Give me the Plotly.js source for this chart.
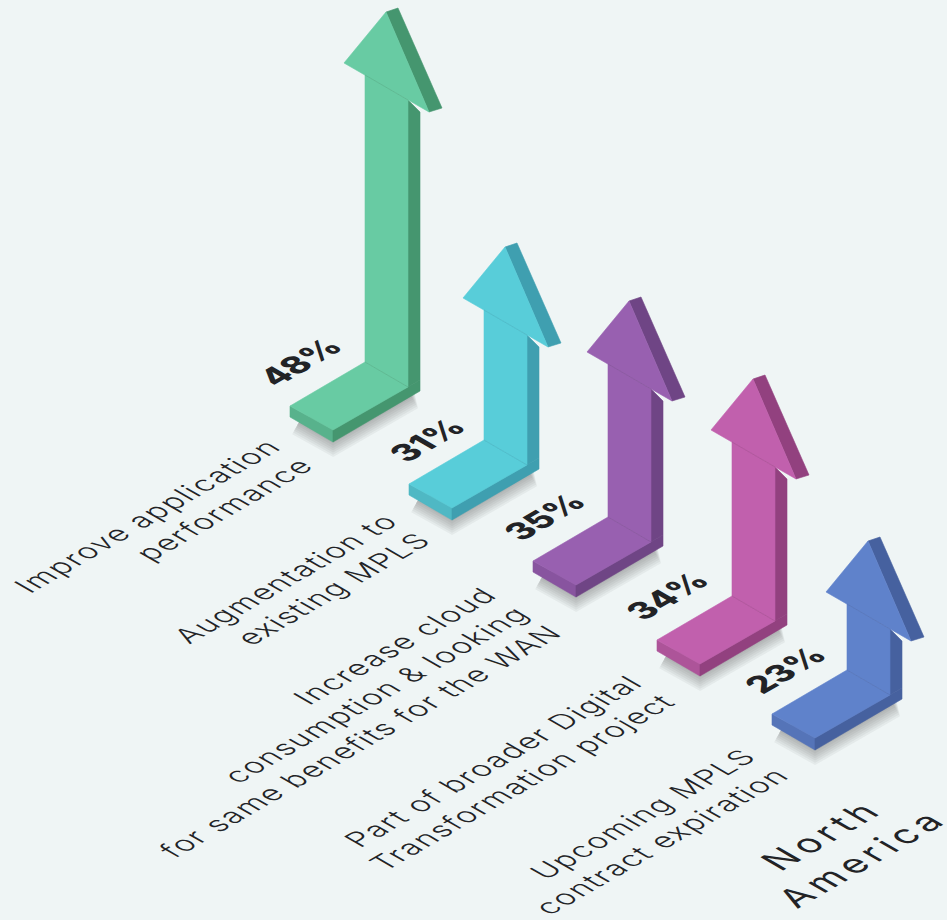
<!DOCTYPE html>
<html><head><meta charset="utf-8">
<script src="https://cdn.plot.ly/plotly-3.0.1.min.js"></script>
<style>html,body{margin:0;padding:0;background:#eff5f5}#c{width:947px;height:920px}</style>
</head><body><div id="c"></div>
<script>
// Data
const categories = [
  "Improve application<br>performance",
  "Augmentation to<br>existing MPLS",
  "Increase cloud<br>consumption &amp; looking<br>for same benefits for the WAN",
  "Part of broader Digital<br>Transformation project",
  "Upcoming MPLS<br>contract expiration"
];
const percents = [48, 31, 35, 34, 23];
// Drawn arrow lengths as measured in the picture: the source art is not strictly proportional to the percentages
const arrowLengths = [350, 193, 216, 217, 129];
const regionLabel = "North<br>America";

// Styles and layout
const faceColors  = ["#68cba3", "#58cdd9", "#9860b0", "#c160ad", "#5f82cb"];
const foldColors  = ["#58b28c", "#4fb8c4", "#88549f", "#ad5499", "#5574b8"];
const sideColors  = ["#45966f", "#3f9fb0", "#6f4585", "#92417f", "#46619f"];
const foots = [[365,362],[484,440],[608,517],[732,596],[847,670]];
const percentShift = [-65,-57,-64,-65,-62];
const labelShift = [[0,0],[-2,-3],[-11,3],[-5,2],[-7,2]];
const bg = "#eff5f5", ink = "#222326";
const LABEL_FONT = "Inter";

function poly(base, pts, color, extra){
  return Object.assign({
    type:"scatter", mode:"lines", fill:"toself", fillcolor:color,
    x:pts.map(p=>base[0]+p[0]).concat(base[0]+pts[0][0]),
    y:pts.map(p=>base[1]+p[1]).concat(base[1]+pts[0][1]),
    line:{color:color,width:0.6,shape:"linear"}, hoverinfo:"skip", showlegend:false
  }, extra||{});
}
function seam(base, a, b, color){
  return {type:"scatter",mode:"lines",x:[base[0]+a[0],base[0]+b[0]],y:[base[1]+a[1],base[1]+b[1]],
    line:{color:color,width:0.8},opacity:0.45,hoverinfo:"skip",showlegend:false};
}
const traces = [];
// soft shadow under each foot (stacked translucent strokes)
foots.forEach(b=>{
  const s=[[-66,52],[-32,71],[46,26],[0,22]];
  [28,24,20,16,12,8,4].forEach(w=>{
    const sb=[b[0],b[1]+8];
    const c="rgba(60,70,75,0.06)";
    traces.push(poly(sb,s,c,{line:{color:c,width:w}}));
  });
});
foots.forEach((b,i)=>{
  const h=arrowLengths[i], f=faceColors[i], m=foldColors[i], d=sideColors[i];
  traces.push(poly(b,[[-75,44],[-32,68],[-32,80],[-75,55]],m));
  traces.push(poly(b,[[-32,68],[43,25],[55,18],[55,29],[-32,80]],d));
  traces.push(poly(b,[[43,25],[55,18],[55,-h+100],[43,-h+88]],d));
  traces.push(poly(b,[[0,0],[-75,44],[-32,68],[43,25]],f));
  traces.push(poly(b,[[0,0],[43,25],[43,-h+88],[0,-h+63]],f));
  traces.push(poly(b,[[21,-h],[33,-h-4],[77,-h+96],[64,-h+100]],d));
  traces.push(poly(b,[[21,-h],[-21,-h+51],[64,-h+100]],f));
  traces.push(seam(b,[0,0],[43,25],d));
  traces.push(seam(b,[0,-h+63],[43,-h+88],d));
});

const ann=[]; const pivots=[]; const spacing=[];
function addText(x,y,text,font,xanchor,align,ls){
  ann.push({x,y,xref:"x",yref:"y",text,showarrow:false,xanchor,yanchor:"middle",align,font,borderpad:0,borderwidth:0});
  pivots.push([x,y]); spacing.push(ls);
}
foots.forEach((b,i)=>{
  addText(b[0]-75+labelShift[i][0],b[1]+90+labelShift[i][1],categories[i],{family:LABEL_FONT,size:29,color:ink,weight:300},"right","right","1.5px");
  addText(b[0]+percentShift[i],b[1],percents[i]+"%",{family:LABEL_FONT,size:33,color:ink,weight:800},"center","center","0px");
});
addText(841,847,regionLabel,{family:LABEL_FONT,size:36,color:ink,weight:400},"center","center","5px");

const layout={
  width:947,height:920,margin:{l:0,r:0,t:0,b:0},paper_bgcolor:bg,plot_bgcolor:bg,
  xaxis:{range:[0,947],visible:false,fixedrange:true},
  yaxis:{range:[920,0],visible:false,fixedrange:true},
  annotations:ann,showlegend:false
};
const gd=document.getElementById("c");
function iso(){
  gd.querySelectorAll(".annotation").forEach((g,i)=>{
    const t=g.querySelector(".annotation-text-g"); const p=pivots[i]; if(!t||!p)return;
    t.setAttribute("transform",`translate(${p[0]},${p[1]}) matrix(0.866,-0.5,0.866,0.5,0,0) translate(${-p[0]},${-p[1]})`);
    const tx=g.querySelector("text"); if(tx) tx.style.letterSpacing=spacing[i];
  });
}
Plotly.newPlot(gd,traces,layout,{staticPlot:true,displayModeBar:false}).then(()=>{iso();gd.on("plotly_afterplot",iso);});
</script></body></html>
